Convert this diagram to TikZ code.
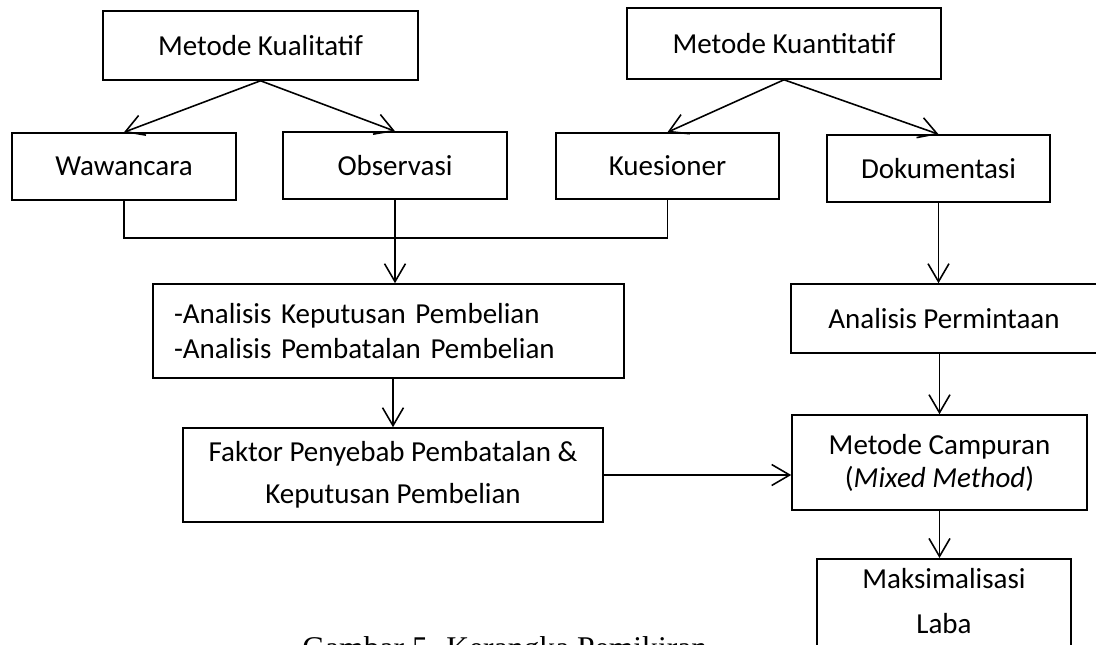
\documentclass[tikz,border=0pt]{standalone}
\usepackage{fontspec}
\setmainfont{Carlito}
\newfontfamily\capfont{Liberation Serif}
\usetikzlibrary{arrows.meta}

\begin{document}
\begin{tikzpicture}[x=0.02cm, y=-0.02cm,
    box/.style={draw, line width=0.9pt, inner sep=0pt, align=center,
                font=\fontsize{16.5}{19.8}\selectfont},
    arr/.style={line width=0.9pt, -{Straight Barb[length=0.36cm, width=0.42cm]}},
    link/.style={line width=0.9pt}]
  \useasboundingbox (0,0) rectangle (1096,645);

    % Method boxes
    \node[box, minimum width=6.3cm, minimum height=1.38cm] (kual) at (260.5,45.5) {Metode Kualitatif};
    \node[box, minimum width=6.28cm, minimum height=1.42cm] (kuan) at (784,43.5) {Metode Kuantitatif};

    % Data collection
    \node[box, minimum width=4.48cm, minimum height=1.34cm] (waw) at (124,166.5) {Wawancara};
    \node[box, minimum width=4.48cm, minimum height=1.34cm] (obs) at (395,165.5) {Observasi};
    \node[box, minimum width=4.46cm, minimum height=1.32cm] (kues) at (667.5,166) {Kuesioner};
    \node[box, minimum width=4.46cm, minimum height=1.34cm] (dok) at (938.5,168.5) {Dokumentasi};

    % Analysis
    \node[box, align=left, text width=8.58cm, inner xsep=0.42cm, minimum height=1.88cm,
          font=\fontsize{16.5}{19.9}\selectfont] (anbeli) at (388.5,331) {
      -Analisis Keputusan Pembelian\\
      -Analisis Pembatalan Pembelian
    };
    \node[box, minimum width=6.12cm, minimum height=1.38cm] (anminta) at (944,318.5) {Analisis Permintaan};

    % Results
    \node[box, minimum width=8.4cm, minimum height=1.88cm,
          font=\fontsize{16.5}{23.9}\selectfont] (faktor) at (393,475) {
      Faktor Penyebab Pembatalan \&\\
      Keputusan Pembelian
    };
    \node[box, minimum width=5.9cm, minimum height=1.9cm,
          font=\fontsize{16.5}{18.8}\selectfont] (campur) at (939.5,462.5) {
      Metode Campuran\\
      (\textit{Mixed Method})
    };
    \node[box, anchor=north, minimum width=5.08cm, inner ysep=0.2cm,
          text height=1.3cm, text depth=1.2cm,
          font=\fontsize{16.5}{25.6}\selectfont] (laba) at (944,558) {
      Maksimalisasi\\
      Laba
    };

    % Caption
    \node[anchor=base west, inner sep=0pt, font=\capfont\fontsize{18}{22}\selectfont] (caption) at (302,658)
      {Gambar 5. Kerangka Pemikiran};

    % Connectors
    \draw[arr] (kual.south) -- (waw.north);
    \draw[arr] (kual.south) -- (obs.north);
    \draw[arr] (kuan.south) -- (kues.north);
    \draw[arr] (kuan.south) -- (dok.north);

    \coordinate (join) at (395,238);
    \draw[link] (waw.south) |- (join) -| (kues.south);
    \draw[arr] (obs.south) -- (obs.south |- anbeli.north);
    \draw[arr] (faktor.north |- anbeli.south) -- (faktor.north);
    \draw[arr] (dok.south) -- (dok.south |- anminta.north);
    \draw[arr] (campur.north |- anminta.south) -- (campur.north);
    \draw[arr] (faktor.east) -- (faktor.east -| campur.west);
    \draw[arr] (campur.south) -- (campur.south |- laba.north);
  \end{tikzpicture}
\end{document}
